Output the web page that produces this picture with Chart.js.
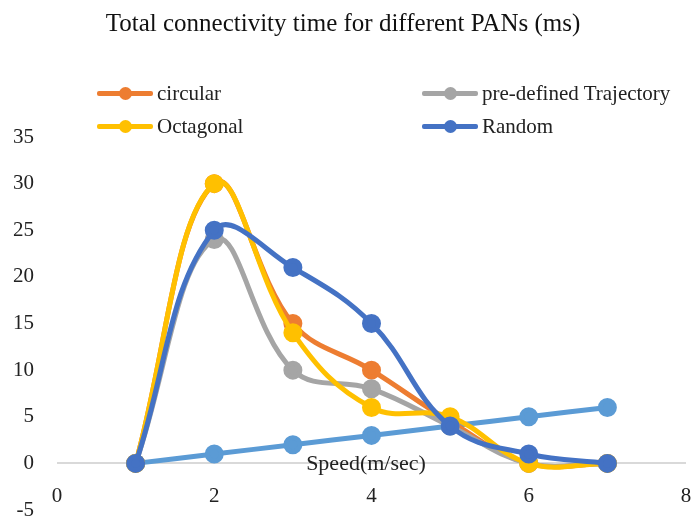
<!DOCTYPE html>
<html>
<head>
<meta charset="utf-8">
<script src="https://cdn.jsdelivr.net/npm/chart.js@4/dist/chart.umd.min.js"></script>
<style>
  html, body { margin: 0; padding: 0; background: #fff; }
  #wrap { position: relative; width: 694px; height: 520px; }
  #legend { position: absolute; left: 0; top: 0; width: 694px; height: 0; font-family: 'Liberation Serif', serif; font-size: 21px; color: #222; }
  .item { position: absolute; display: flex; align-items: center; height: 24px; }
  .mark { position: relative; width: 56px; height: 5px; margin-right: 4px; border-radius: 2px; }
  .mark span { position: absolute; left: 22px; top: -4px; width: 13px; height: 13px; border-radius: 50%; }
</style>
</head>
<body>
<div id="wrap">
  <canvas id="grafico" width="694" height="520"></canvas>
  <div id="legend"></div>
</div>
<script>
// dados
const velocidade = [1, 2, 3, 4, 5, 6, 7]
const circular = [0, 30, 15, 10, 4.5, 0, 0]
const preDefinida = [0, 24, 10, 8, 4, 0, 0]
const octogonal = [0, 30, 14, 6, 5, 0, 0]
const aleatorio = [0, 25, 21, 15, 4, 1, 0]
const linhaBase = [0, 1, 2, 3, 4, 5, 6]

const fonte = "'Liberation Serif', 'Times New Roman', serif"

function pontos(valores) {
    return velocidade.map((v, i) => ({ x: v, y: valores[i] }))
}

function serie(label, valores, cor, ordem) {
    return {
        label: label,
        data: pontos(valores),
        borderColor: cor,
        backgroundColor: cor,
        borderWidth: 5,
        pointRadius: 7,
        pointHoverRadius: 7,
        tension: 0.4,
        order: ordem
    }
}

// titulo do eixo x fica em cima da linha do zero
const tituloEixo = {
    id: 'tituloEixo',
    afterDatasetsDraw(chart) {
        const c = chart.ctx
        const x = chart.scales.x.getPixelForValue(3.93)
        const y = chart.scales.y.getPixelForValue(0)
        c.save()
        c.font = '22px ' + fonte
        c.fillStyle = '#222'
        c.textAlign = 'center'
        c.textBaseline = 'middle'
        c.fillText('Speed(m/sec)', x, y + 1)
        c.restore()
    }
}

let ctx = document.getElementById('grafico').getContext('2d')
let chart = new Chart(ctx, {
    type: 'line',
    data: {
        datasets: [
            serie('circular', circular, '#ED7D31', 4),
            serie('pre-defined Trajectory', preDefinida, '#A5A5A5', 3),
            serie('Octagonal', octogonal, '#FFC000', 2),
            serie('Random', aleatorio, '#4472C4', 1),
            serie('', linhaBase, '#5B9BD5', 5)
        ]
    },
    options: {
        responsive: false,
        animation: false,
        layout: { autoPadding: false, padding: { top: 0, right: 8, bottom: 0, left: 0 } },
        plugins: {
            legend: { display: false },
            tooltip: { enabled: false },
            title: {
                display: true,
                text: 'Total connectivity time for different PANs (ms)',
                color: '#111',
                font: { family: fonte, size: 25, weight: 'normal' },
                padding: { top: 9, bottom: 98 }
            }
        },
        scales: {
            x: {
                type: 'linear',
                min: 0,
                max: 8,
                afterFit: (s) => { s.height = 10; s.paddingLeft = 0; s.paddingRight = 0 },
                grid: { display: false, drawTicks: false },
                border: { display: false },
                ticks: { stepSize: 2, mirror: true, color: '#222', padding: -4, font: { family: fonte, size: 21, lineHeight: 1.7 } }
            },
            y: {
                min: -5,
                max: 35,
                afterFit: (s) => { s.width = 57; s.paddingTop = 0; s.paddingBottom = 0 },
                grid: {
                    drawTicks: false,
                    lineWidth: 2,
                    color: (c) => c.tick && c.tick.value === 0 ? '#D9D9D9' : 'rgba(0,0,0,0)'
                },
                border: { display: false },
                ticks: { stepSize: 5, color: '#222', padding: 23, font: { family: fonte, size: 21 } }
            }
        }
    },
    plugins: [tituloEixo]
})

// legenda em duas colunas, como no original
const posLegenda = [[97, 81], [422, 81], [97, 114], [422, 114]]
const legenda = document.getElementById('legend')
chart.data.datasets.filter(d => d.label).forEach((d, i) => {
    const item = document.createElement('div')
    item.className = 'item'
    item.style.left = posLegenda[i][0] + 'px'
    item.style.top = posLegenda[i][1] + 'px'
    item.innerHTML = '<div class="mark" style="background:' + d.borderColor + '"><span style="background:' + d.borderColor + '"></span></div>' + d.label
    legenda.appendChild(item)
})
</script>
</body>
</html>
